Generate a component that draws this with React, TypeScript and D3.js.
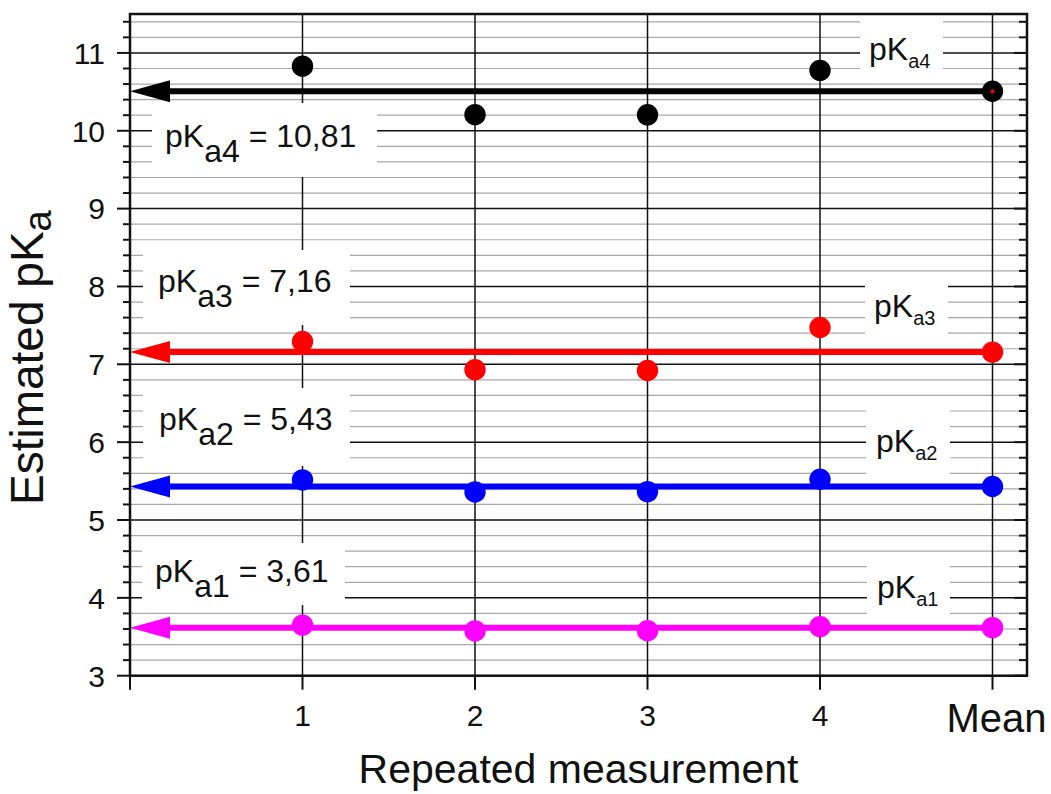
import React from 'react';
import * as d3 from 'd3';

// ---- data ----
const categories = ['1', '2', '3', '4', 'Mean'];
const catPos = [1, 2, 3, 4, 5];
const pKa1 = [3.65, 3.575, 3.578, 3.63, 3.617];
const pKa2 = [5.515, 5.36, 5.365, 5.524, 5.43];
const pKa3 = [7.293, 6.93, 6.92, 7.473, 7.157];
const pKa4 = [10.83, 10.207, 10.205, 10.776, 10.507];
const seriesSubs = ['a1', 'a2', 'a3', 'a4'];
const meanLabels = ['3,61', '5,43', '7,16', '10,81'];
const seriesColors = ['#ff00ff', '#0000ff', '#ff0000', '#000000'];
const yMajor = [3, 4, 5, 6, 7, 8, 9, 10, 11];
const yTickLabels = ['3', '4', '5', '6', '7', '8', '9', '10', '11'];

const W = 1051;
const H = 794;
const FONT = '"Liberation Sans", Arial, Helvetica, sans-serif';

export default function App() {
  const left = 130, right = 1027, top = 14, bottom = 675.7;
  const x = d3.scaleLinear().domain([0, 5.2]).range([left, right]);
  const y = d3.scaleLinear().domain([3, 11.5]).range([bottom, top]);
  const series = [pKa1, pKa2, pKa3, pKa4];

  const minor = d3
    .range(3, 11.5 + 1e-9, 0.2)
    .map((v) => +v.toFixed(2))
    .filter((v) => Math.abs(v - Math.round(v)) > 1e-6);

  // annotation layout (pixels)
  const leftLabels = [
    { tx: 155, ty: 582, box: [142, 543, 345, 605] },
    { tx: 159, ty: 430, box: [143, 388, 350, 466] },
    { tx: 158, ty: 292, box: [143, 250, 350, 325] },
    { tx: 165, ty: 147, box: [152, 103, 377, 177] },
  ];
  const rightLabels = [
    { tx: 877, ty: 598, box: [867, 559, 950, 620] },
    { tx: 876, ty: 452, box: [866, 404, 950, 480] },
    { tx: 874, ty: 317, box: [865, 278, 948, 340] },
    { tx: 869, ty: 60, box: [860, 14, 943, 77] },
  ];

  return (
    <svg width={W} height={H} style={{ position: 'absolute', left: 0, top: 0, background: '#fff' }} fontFamily={FONT}>
      <rect x={0} y={0} width={W} height={H} fill="#fff" />
      {/* minor grid */}
      {minor.map((v) => (
        <line key={'mg' + v} x1={left} x2={right} y1={y(v)} y2={y(v)} stroke="#a8a8a8" strokeWidth={1.2} />
      ))}
      {yMajor.map((v) => (
        <line key={'Mg' + v} x1={left} x2={right} y1={y(v)} y2={y(v)} stroke="#111" strokeWidth={1.5} />
      ))}
      {catPos.map((c) => (
        <line key={'vg' + c} x1={x(c)} x2={x(c)} y1={top} y2={bottom} stroke="#111" strokeWidth={1.5} />
      ))}

      {/* label boxes */}
      {leftLabels.concat(rightLabels).map((l, i) => (
        <rect key={'bx' + i} x={l.box[0]} y={l.box[1]} width={l.box[2] - l.box[0]} height={l.box[3] - l.box[1]} fill="#fff" />
      ))}
      {leftLabels.map((l, i) => (
        <text key={'ll' + i} x={l.tx} y={l.ty} fontSize={32} fill="#111" style={{ whiteSpace: 'pre' }}>
          <tspan>pK</tspan>
          <tspan dy={15}>{seriesSubs[i]}</tspan>
          <tspan dy={-15}>{' = ' + meanLabels[i]}</tspan>
        </text>
      ))}
      {rightLabels.map((l, i) => (
        <text key={'rl' + i} x={l.tx} y={l.ty} fontSize={32} fill="#111">
          <tspan>pK</tspan>
          <tspan dy={8} fontSize={20}>{seriesSubs[i]}</tspan>
        </text>
      ))}

      {/* mean arrows */}
      {series.map((s, i) => {
        const m = s[s.length - 1];
        const ym = y(m);
        const tip = x(0);
        return (
          <g key={'ar' + i}>
            <line x1={x(5)} x2={tip + 30} y1={ym} y2={ym} stroke={seriesColors[i]} strokeWidth={6} />
            <path d={`M${tip},${ym} L${tip + 40},${ym - 11} L${tip + 40},${ym + 11} Z`} fill={seriesColors[i]} />
          </g>
        );
      })}

      {/* points */}
      {series.map((s, i) =>
        s.map((v, j) => (
          <circle key={'pt' + i + '-' + j} cx={x(catPos[j])} cy={y(v)} r={10.7} fill={seriesColors[i]} />
        ))
      )}
      <circle cx={x(5)} cy={y(pKa4[4])} r={2} fill="#ff0000" />

      {/* frame */}
      <rect x={left} y={top} width={right - left} height={bottom - top} fill="none" stroke="#111" strokeWidth={2.5} />

      {/* left ticks outward, right ticks inward */}
      {yMajor.map((v) => (
        <g key={'yt' + v}>
          <line x1={left - 13} x2={left} y1={y(v)} y2={y(v)} stroke="#111" strokeWidth={2} />
          <line x1={right - 13} x2={right} y1={y(v)} y2={y(v)} stroke="#111" strokeWidth={2} />
        </g>
      ))}
      {minor.map((v) => (
        <g key={'ymt' + v}>
          <line x1={left - 7} x2={left} y1={y(v)} y2={y(v)} stroke="#111" strokeWidth={2} />
          <line x1={right - 8} x2={right} y1={y(v)} y2={y(v)} stroke="#111" strokeWidth={2} />
        </g>
      ))}
      {yMajor.map((v, i) => (
        <text key={'yl' + v} x={105} y={y(v)} dy="0.36em" textAnchor="end" fontSize={30} fill="#111">
          {yTickLabels[i]}
        </text>
      ))}

      {/* bottom ticks */}
      {[0].concat(catPos).map((c) => (
        <line key={'xt' + c} x1={x(c)} x2={x(c)} y1={bottom} y2={bottom + 14} stroke="#111" strokeWidth={2} />
      ))}
      {catPos.map((c, i) =>
        categories[i] === 'Mean' ? (
          <text key={'xl' + c} x={x(c) + 4} y={732} textAnchor="middle" fontSize={40} fill="#111">
            {categories[i]}
          </text>
        ) : (
          <text key={'xl' + c} x={x(c)} y={726} textAnchor="middle" fontSize={30} fill="#111">
            {categories[i]}
          </text>
        )
      )}

      {/* axis titles */}
      <text x={(left + right) / 2} y={783} textAnchor="middle" fontSize={41} fill="#111">
        Repeated measurement
      </text>
      <text transform={`translate(43, 505) rotate(-90)`} textAnchor="start" fontSize={46} fill="#111">
        <tspan>Estimated pK</tspan>
        <tspan dy={8} fontSize={38}>a</tspan>
      </text>
    </svg>
  );
}
